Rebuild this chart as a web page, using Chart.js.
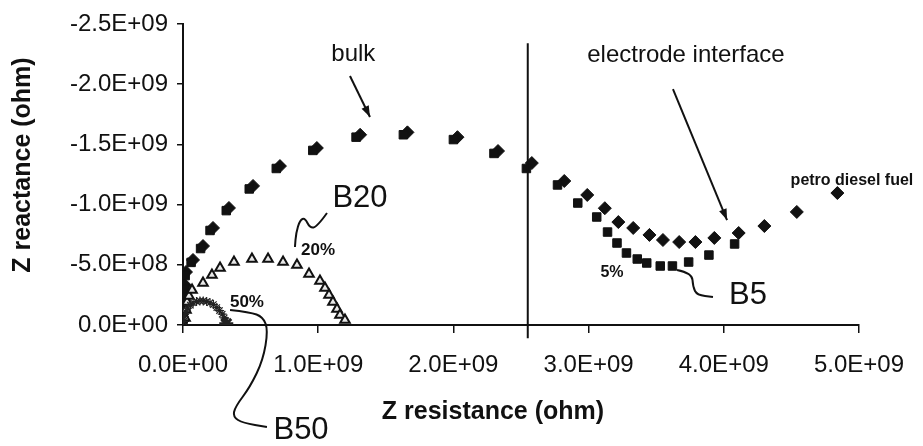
<!DOCTYPE html>
<html>
<head>
<meta charset="utf-8">
<script src="https://cdn.jsdelivr.net/npm/chart.js@4/dist/chart.umd.min.js"></script>
<style>
  body { margin: 0; background: #fff; }
  #wrap { width: 923px; height: 446px; }
</style>
</head>
<body>
<div id="wrap"><canvas id="nyquist" width="923" height="446"></canvas></div>
<script>
// Impedance values are kept in units of 1E+09 ohm
const UNIT = 1e9;

// petro diesel fuel (diamonds): bulk arc followed by electrode interface tail
const petroR = [0.001, 0.004, 0.007, 0.015, 0.022, 0.074, 0.148, 0.222, 0.34, 0.518, 0.717, 0.99, 1.31, 1.66, 2.03, 2.33,
                2.58, 2.82, 2.99, 3.12, 3.22, 3.33, 3.45, 3.55, 3.67, 3.79, 3.93, 4.11, 4.30, 4.54, 4.84];
const petroX = [-0.04, -0.125, -0.22, -0.33, -0.44, -0.54, -0.656, -0.806, -0.972, -1.155, -1.32, -1.47, -1.58, -1.60, -1.56, -1.445,
                -1.345, -1.196, -1.08, -0.97, -0.855, -0.806, -0.748, -0.706, -0.689, -0.689, -0.723, -0.764, -0.822, -0.939, -1.096];

// B5 blend (squares)
const b5R = [0.0, 0.003, 0.005, 0.01, 0.016, 0.06, 0.13, 0.20, 0.32, 0.49, 0.69, 0.96, 1.28, 1.63, 2.00, 2.30,
             2.54, 2.77, 2.92, 3.06, 3.14, 3.21, 3.28, 3.36, 3.43, 3.53, 3.62, 3.74, 3.89, 4.08];
const b5X = [-0.02, -0.1, -0.19, -0.3, -0.41, -0.52, -0.635, -0.785, -0.95, -1.13, -1.30, -1.45, -1.56, -1.58, -1.54, -1.425,
             -1.30, -1.163, -1.013, -0.897, -0.772, -0.681, -0.598, -0.548, -0.515, -0.49, -0.49, -0.523, -0.581, -0.673];

// B20 blend (open triangles)
const b20R = [0.015, 0.022, 0.03, 0.044, 0.067, 0.148, 0.214, 0.274, 0.377, 0.51, 0.629, 0.74, 0.843, 0.932,
              1.013, 1.05, 1.08, 1.109, 1.139, 1.161, 1.198];
const b20X = [-0.058, -0.125, -0.19, -0.24, -0.29, -0.349, -0.415, -0.473, -0.523, -0.548, -0.548, -0.523, -0.498, -0.424,
              -0.365, -0.307, -0.249, -0.191, -0.133, -0.083, -0.042];

// B50 blend (stars)
const b50R = [0.004, 0.01, 0.02, 0.035, 0.055, 0.075, 0.1, 0.125, 0.15, 0.175, 0.2, 0.225, 0.25, 0.27, 0.29, 0.305, 0.315, 0.32];
const b50X = [-0.03, -0.07, -0.11, -0.14, -0.165, -0.185, -0.195, -0.2, -0.2, -0.195, -0.185, -0.17, -0.145, -0.12, -0.09, -0.06, -0.035, -0.01];

// divider between bulk and electrode interface regions
const dividerR = [2.55, 2.55];
const dividerX = [-2.34, 0.11];

// axis ticks
const xTicks = [0, 1, 2, 3, 4, 5];
const yTicks = [-2.5, -2.0, -1.5, -1.0, -0.5, 0];

function toPoints(rs, xs) {
    return rs.map((r, i) => ({ x: r * UNIT, y: xs[i] * UNIT }));
}

// 1.0E+09 style labels
function sci(v) {
    if (Math.abs(v) < 1) return '0.0E+00';
    const e = Math.floor(Math.log10(Math.abs(v)) + 1e-9);
    const m = v / Math.pow(10, e);
    return m.toFixed(1) + 'E' + (e < 0 ? '-' : '+') + String(Math.abs(e)).padStart(2, '0');
}

const FONT = 'Liberation Sans, Arial, sans-serif';

/**
 * Axis titles, labels, leader lines and arrows.
 * Notes are placed in data coordinates (units of 1E+09).
 */
const annotationPlugin = {
    id: 'notes',
    afterDatasetsDraw(chart) {
        const ctx = chart.ctx;
        const area = chart.chartArea;
        const xs = chart.scales.x;
        const ys = chart.scales.y;
        const P = (r, x) => [xs.getPixelForValue(r * UNIT), ys.getPixelForValue(x * UNIT)];

        ctx.save();
        ctx.fillStyle = '#111';
        ctx.strokeStyle = '#111';
        ctx.textAlign = 'center';
        ctx.textBaseline = 'middle';

        // axis titles
        ctx.font = 'bold 25px ' + FONT;
        ctx.fillText('Z resistance (ohm)', area.left + 310, area.bottom + 87);
        ctx.save();
        ctx.translate(23, area.top + 141);
        ctx.rotate(-Math.PI / 2);
        ctx.fillText('Z reactance (ohm)', 0, 0);
        ctx.restore();

        function text(str, r, x, font) {
            const p = P(r, x);
            ctx.font = font;
            ctx.fillText(str, p[0], p[1]);
        }

        function arrow(r1, x1, r2, x2) {
            const a = P(r1, x1), b = P(r2, x2);
            ctx.lineWidth = 2;
            ctx.beginPath();
            ctx.moveTo(a[0], a[1]);
            ctx.lineTo(b[0], b[1]);
            ctx.stroke();
            const ang = Math.atan2(b[1] - a[1], b[0] - a[0]);
            const len = 11, half = 4;
            ctx.beginPath();
            ctx.moveTo(b[0], b[1]);
            ctx.lineTo(b[0] - len * Math.cos(ang) + half * Math.sin(ang), b[1] - len * Math.sin(ang) - half * Math.cos(ang));
            ctx.lineTo(b[0] - len * Math.cos(ang) - half * Math.sin(ang), b[1] - len * Math.sin(ang) + half * Math.cos(ang));
            ctx.closePath();
            ctx.fill();
        }

        // smooth curve through a list of points
        function curve(pts) {
            const px = pts.map(p => P(p[0], p[1]));
            ctx.lineWidth = 2;
            ctx.beginPath();
            ctx.moveTo(px[0][0], px[0][1]);
            for (let i = 1; i < px.length - 1; i++) {
                const mx = (px[i][0] + px[i + 1][0]) / 2;
                const my = (px[i][1] + px[i + 1][1]) / 2;
                ctx.quadraticCurveTo(px[i][0], px[i][1], mx, my);
            }
            const last = px[px.length - 1];
            ctx.lineTo(last[0], last[1]);
            ctx.stroke();
        }

        text('bulk', 1.26, -2.25, '24px ' + FONT);
        arrow(1.235, -2.068, 1.383, -1.728);

        text('electrode interface', 3.72, -2.243, '24px ' + FONT);
        arrow(3.624, -1.96, 4.024, -0.872);

        text('petro diesel fuel', 4.948, -1.196, 'bold 16px ' + FONT);

        text('B20', 1.309, -1.055, '31px ' + FONT);
        text('20%', 0.999, -0.623, 'bold 17px ' + FONT);
        curve([[1.065, -0.93], [0.991, -0.814], [0.939, -0.806], [0.902, -0.889], [0.865, -0.872],
               [0.836, -0.764], [0.828, -0.648]]);

        text('50%', 0.473, -0.191, 'bold 17px ' + FONT);
        curve([[0.348, -0.125], [0.496, -0.108], [0.592, -0.066], [0.629, 0.042], [0.592, 0.291],
               [0.496, 0.515], [0.385, 0.681], [0.37, 0.764], [0.444, 0.814], [0.621, 0.847]]);
        text('B50', 0.873, 0.872, '31px ' + FONT);

        text('5%', 3.173, -0.432, 'bold 16px ' + FONT);
        curve([[3.654, -0.457], [3.765, -0.432], [3.772, -0.316], [3.802, -0.249], [3.92, -0.233]]);
        text('B5', 4.179, -0.249, '31px ' + FONT);

        ctx.restore();
    }
};

const ctx = document.getElementById('nyquist');

new Chart(ctx, {
    type: 'scatter',
    data: {
        datasets: [
            {
                label: 'divider',
                type: 'line',
                data: toPoints(dividerR, dividerX),
                borderColor: '#111',
                borderWidth: 2,
                pointRadius: 0,
                clip: false
            },
            {
                label: 'B50',
                data: toPoints(b50R, b50X),
                pointStyle: 'star',
                pointRadius: b50R.map((r, i) => i === b50R.length - 1 ? 7 : 4.5),
                pointBorderWidth: b50R.map((r, i) => i === b50R.length - 1 ? 3 : 1.2),
                borderColor: '#222',
                backgroundColor: '#222'
            },
            {
                label: 'B20',
                data: toPoints(b20R, b20X),
                pointStyle: 'triangle',
                pointRadius: 5.5,
                pointBorderWidth: 2,
                borderColor: '#111',
                backgroundColor: '#e8e8e8'
            },
            {
                label: 'B5',
                data: toPoints(b5R, b5X),
                pointStyle: 'rect',
                pointRadius: 6,
                pointBorderWidth: 1,
                borderColor: '#111',
                backgroundColor: '#111'
            },
            {
                label: 'petro diesel fuel',
                data: toPoints(petroR, petroX),
                pointStyle: 'rectRot',
                pointRadius: 6.5,
                pointBorderWidth: 1,
                borderColor: '#111',
                backgroundColor: '#111'
            }
        ]
    },
    options: {
        responsive: false,
        animation: false,
        devicePixelRatio: 1,
        layout: {
            padding: { left: 0, right: 64, top: 24, bottom: 0 }
        },
        plugins: {
            legend: { display: false },
            tooltip: { enabled: false }
        },
        scales: {
            x: {
                type: 'linear',
                min: 0,
                max: 5 * UNIT,
                afterBuildTicks: function(scale) {
                    scale.ticks = xTicks.map(v => ({ value: v * UNIT }));
                },
                afterFit: function(scale) {
                    scale.height = 121;
                },
                border: { display: true, color: '#111', width: 2 },
                grid: {
                    drawOnChartArea: false,
                    drawTicks: true,
                    tickLength: 8,
                    color: '#111',
                    lineWidth: 1.5
                },
                ticks: {
                    color: '#111',
                    padding: 18,
                    maxRotation: 0,
                    font: { family: FONT, size: 24 },
                    callback: function(v) { return sci(v); }
                }
            },
            y: {
                type: 'linear',
                reverse: true,
                min: -2.5 * UNIT,
                max: 0,
                afterBuildTicks: function(scale) {
                    scale.ticks = yTicks.map(v => ({ value: v * UNIT }));
                },
                afterFit: function(scale) {
                    scale.width = 183;
                },
                border: { display: true, color: '#111', width: 2 },
                grid: {
                    drawOnChartArea: false,
                    drawTicks: true,
                    tickLength: 6,
                    color: '#111',
                    lineWidth: 1.5
                },
                ticks: {
                    color: '#111',
                    padding: 9,
                    font: { family: FONT, size: 24 },
                    callback: function(v) { return sci(v); }
                }
            }
        }
    },
    plugins: [annotationPlugin]
});
</script>
</body>
</html>
